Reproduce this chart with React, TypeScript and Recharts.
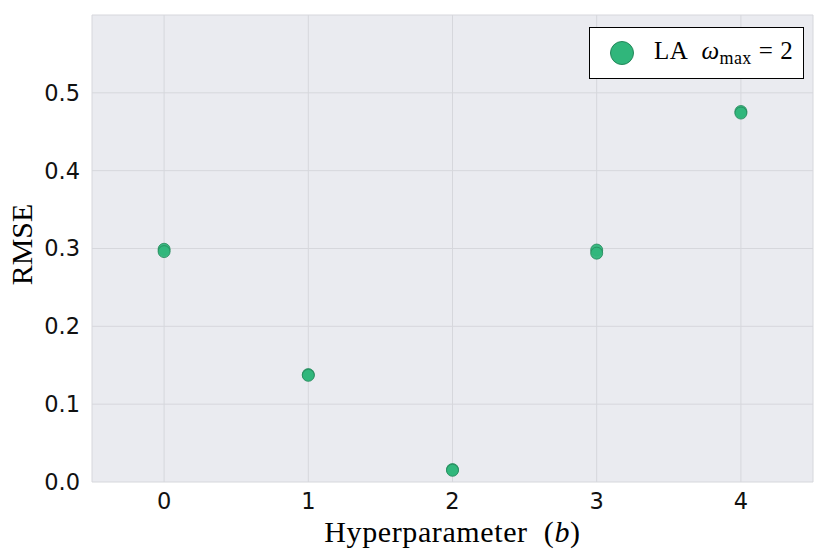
import React from "react";
import { ScatterChart, Scatter, XAxis, YAxis, CartesianGrid } from "recharts";

// hyperparameter b and the RMSE of the two runs at each b
const hyperparams = [0, 1, 2, 3, 4];
const rmseRunA = [0.299, 0.138, 0.016, 0.298, 0.476];
const rmseRunB = [0.296, 0.137, 0.015, 0.294, 0.474];
const xTicks = [0, 1, 2, 3, 4];
const yTicks = [0, 0.1, 0.2, 0.3, 0.4, 0.5];

const points = hyperparams.flatMap((b, i) => [
  { b, rmse: rmseRunA[i] },
  { b, rmse: rmseRunB[i] },
]);

const GREEN = "#30b67b";
const EDGE = "#24885b";
const SERIF = "'Liberation Serif', 'DejaVu Serif', serif";

const Dot = (props: any) => (
  <circle cx={props.cx} cy={props.cy} r={6} fill={GREEN} stroke={EDGE} strokeWidth={0.8} fillOpacity={0.95} />
);

const XLabel = ({ viewBox }: any) => {
  const cx = viewBox.x + viewBox.width / 2;
  return (
    <text
      x={cx}
      y={viewBox.y + 60}
      textAnchor="middle"
      fontFamily={SERIF}
      fontSize={30}
      letterSpacing={0.6}
      fill="#000"
    >
      Hyperparameter&#160;&#160;(<tspan fontStyle="italic">b</tspan>)
    </text>
  );
};

const YLabel = ({ viewBox }: any) => {
  const cy = viewBox.y + viewBox.height / 2 - 4;
  return (
    <text
      x={32}
      y={cy}
      transform={`rotate(-90, 32, ${cy})`}
      textAnchor="middle"
      fontFamily={SERIF}
      fontSize={30}
      fill="#000"
    >
      RMSE
    </text>
  );
};

export default function App() {
  const tickStyle = { fontFamily: "'DejaVu Sans', sans-serif", fontSize: 22.5, fill: "#111" };
  return (
    <div style={{ position: "absolute", left: 0, top: 0, width: 830, height: 554, background: "#fff" }}>
      <ScatterChart width={830} height={554} margin={{ top: 15, right: 17, left: 0, bottom: 0 }}>
        <CartesianGrid fill="#eaebf0" stroke="#d6d7dc" strokeWidth={1} />
        <XAxis
          type="number"
          dataKey="b"
          domain={[-0.5, 4.5]}
          ticks={xTicks}
          height={72}
          axisLine={false}
          tickLine={false}
          tickSize={0}
          tickMargin={11}
          tick={tickStyle}
          label={<XLabel />}
        />
        <YAxis
          type="number"
          dataKey="rmse"
          domain={[0, 0.6]}
          ticks={yTicks}
          width={92}
          axisLine={false}
          tickLine={false}
          tickSize={0}
          tickMargin={12}
          tick={tickStyle}
          tickFormatter={(v: number) => v.toFixed(1)}
          label={<YLabel />}
        />
        <Scatter data={points} shape={<Dot />} isAnimationActive={false} />
      </ScatterChart>
      <div
        style={{
          position: "absolute",
          left: 589,
          top: 27,
          width: 213,
          height: 50,
          background: "#fff",
          border: "1.5px solid #000",
          display: "flex",
          alignItems: "center",
          fontFamily: SERIF,
          fontSize: 25,
          color: "#000",
        }}
      >
        <svg width={64} height={50} style={{ flex: "none" }}>
          <circle cx={32} cy={25} r={11.5} fill={GREEN} stroke={EDGE} strokeWidth={1} />
        </svg>
        <span style={{ whiteSpace: "nowrap", letterSpacing: 0.4 }}>
          LA&#160;&#160;<i>ω</i>
          <sub style={{ fontSize: 18, verticalAlign: "-5px" }}>max</sub>
          <span style={{ margin: "0 7px" }}>=</span>2
        </span>
      </div>
    </div>
  );
}
